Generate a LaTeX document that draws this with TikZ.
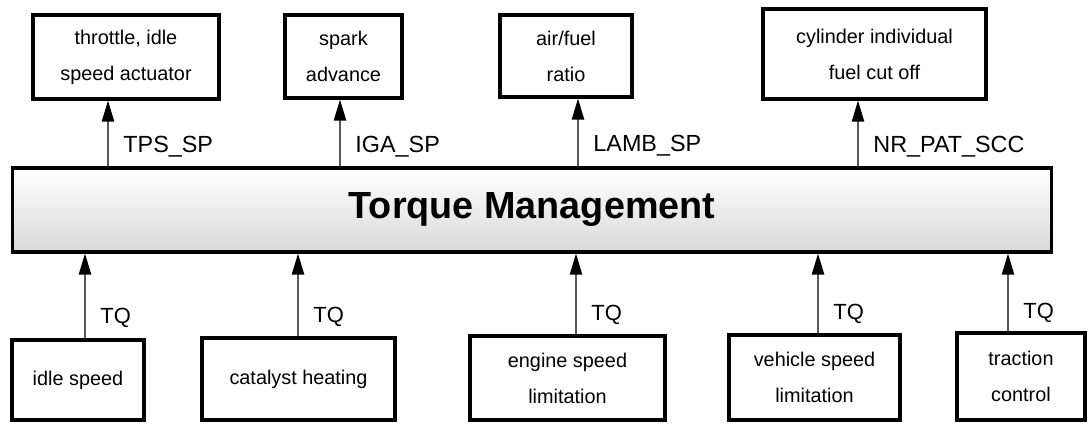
\documentclass[tikz,border=0pt]{standalone}
\usepackage{fontspec}
\setmainfont{Liberation Sans}
\usepackage{tikz}
\usetikzlibrary{arrows.meta}
\definecolor{lineC}{gray}{0.35}

\begin{document}
\begin{tikzpicture}[x=0.02cm,y=-0.02cm,
  box/.style={draw,line width=1.8pt,inner sep=0pt,align=center,
    font=\fontsize{11.3}{20.5}\selectfont},
  conn/.style={draw=lineC,line width=0.9pt,
    -{Triangle[length=12pt,width=7pt,color=black]}},
  sig/.style={font=\fontsize{13.3}{15}\selectfont,right=5pt,pos=0.3},
  tq/.style={font=\fontsize{12.5}{14}\selectfont,right=5pt,pos=0.24}]
  \useasboundingbox (0,0) rectangle (1089,423);

  % Central block
  \node[box,minimum width=20.8cm,minimum height=1.68cm,
    top color=white,middle color=white,bottom color=gray!30,
    font=\bfseries\fontsize{21.5}{24}\selectfont] (tm) at (532,210) {Torque Management};

  % Actuator paths (top row)
  \node[box,minimum width=3.72cm,minimum height=1.68cm] (thr) at (126,57) {throttle, idle\\speed actuator};
  \node[box,minimum width=2.34cm,minimum height=1.66cm] (spk) at (343.5,56.5) {spark\\advance};
  \node[box,minimum width=2.64cm,minimum height=1.64cm] (afr) at (566,56) {air/fuel\\ratio};
  \node[box,minimum width=4.46cm,minimum height=1.8cm] (cyl) at (874.5,54) {cylinder individual\\fuel cut off};

  % Torque requests (bottom row)
  \node[box,minimum width=2.64cm,minimum height=1.6cm] (idle) at (78,380) {idle speed};
  \node[box,minimum width=3.86cm,minimum height=1.64cm] (cat) at (298.5,379) {catalyst heating};
  \node[box,minimum width=3.9cm,minimum height=1.68cm] (eng) at (567.5,378) {engine speed\\limitation};
  \node[box,minimum width=3.42cm,minimum height=1.7cm] (veh) at (814.5,377.5) {vehicle speed\\limitation};
  \node[box,minimum width=2.56cm,minimum height=1.74cm] (trc) at (1021,376.5) {traction\\control};

  % Setpoints out
  \draw[conn] (tm.north -| 108,0) -- (thr.south -| 108,0) node[sig] {TPS\_SP};
  \draw[conn] (tm.north -| 340,0) -- (spk.south -| 340,0) node[sig] {IGA\_SP};
  \draw[conn] (tm.north -| 578,0) -- (afr.south -| 578,0) node[sig] {LAMB\_SP};
  \draw[conn] (tm.north -| 858,0) -- (cyl.south -| 858,0) node[sig] {NR\_PAT\_SCC};

  % Torque demands in
  \draw[conn] (idle.north -| 85,0) -- (tm.south -| 85,0) node[tq] {TQ};
  \draw[conn] (cat.north -| 298,0) -- (tm.south -| 298,0) node[tq] {TQ};
  \draw[conn] (eng.north -| 576,0) -- (tm.south -| 576,0) node[tq] {TQ};
  \draw[conn] (veh.north -| 818,0) -- (tm.south -| 818,0) node[tq] {TQ};
  \draw[conn] (trc.north -| 1008,0) -- (tm.south -| 1008,0) node[tq] {TQ};
\end{tikzpicture}
\end{document}
